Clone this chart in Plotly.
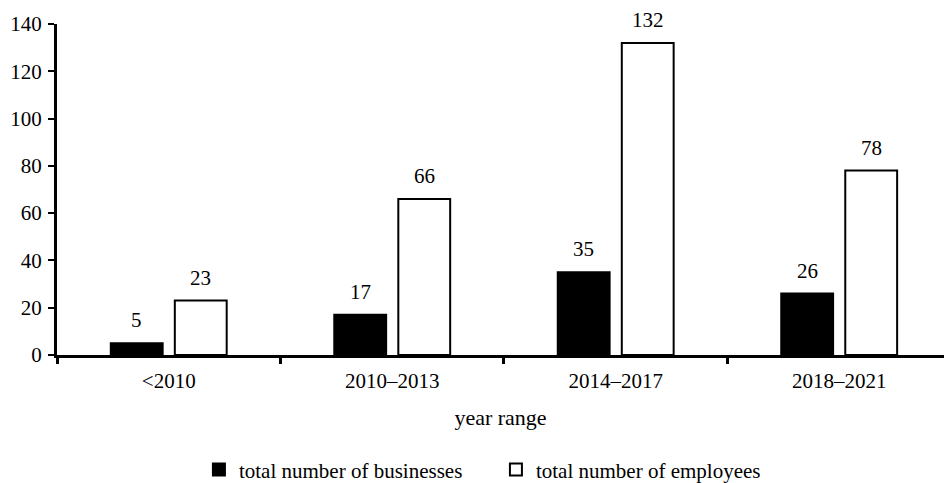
import plotly.graph_objects as go

categories = ["<2010", "2010\u20132013", "2014\u20132017", "2018\u20132021"]
businesses = [5, 17, 35, 26]
employees = [23, 66, 132, 78]
y_ticks = [0, 20, 40, 60, 80, 100, 120, 140]

FONT = "Liberation Serif"

fig = go.Figure()
fig.add_trace(go.Bar(
    x=categories, y=businesses, name="total number of businesses",
    marker=dict(color="black", line=dict(color="black", width=2)),
))
fig.add_trace(go.Bar(
    x=categories, y=employees, name="total number of employees",
    marker=dict(color="white", line=dict(color="black", width=2)),
))

annotations = []
for i, c in enumerate(categories):
    for vals, shift in ((businesses, -32), (employees, 32)):
        annotations.append(dict(
            x=c, y=vals[i], xref="x", yref="y", text=str(vals[i]),
            showarrow=False, xshift=shift, yanchor="bottom", yshift=9,
            font=dict(family=FONT, size=21, color="black"),
        ))

fig.update_layout(
    width=944, height=483,
    paper_bgcolor="white", plot_bgcolor="white",
    margin=dict(l=57, r=0, t=24, b=128),
    barmode="group", bargap=0.427, bargroupgap=0.19,
    font=dict(family=FONT, size=21, color="black"),
    showlegend=True,
    annotations=annotations,
    legend=dict(orientation="h", x=0.160, xanchor="left",
                yref="container", y=0.027, yanchor="middle",
                font=dict(family=FONT, size=21, color="black"),
                entrywidth=252, itemwidth=30, tracegroupgap=0, traceorder="normal"),
    xaxis=dict(
        title=dict(text="year range", font=dict(family=FONT, size=22), standoff=18),
        range=[-0.5, 3.469],
        showline=True, linecolor="black", linewidth=2.5,
        ticks="outside", tickson="boundaries", ticklen=6, tickwidth=3, tickcolor="black",
        ticklabelstandoff=5,
        showgrid=False, zeroline=False,
        tickfont=dict(family=FONT, size=21),
    ),
    yaxis=dict(
        range=[0, 140], tickvals=y_ticks,
        showline=True, linecolor="black", linewidth=3,
        ticks="outside", ticklen=6, tickwidth=2, tickcolor="black",
        ticklabelstandoff=2,
        showgrid=False, zeroline=False,
        tickfont=dict(family=FONT, size=21),
    ),
)

fig.write_html("out.html")
